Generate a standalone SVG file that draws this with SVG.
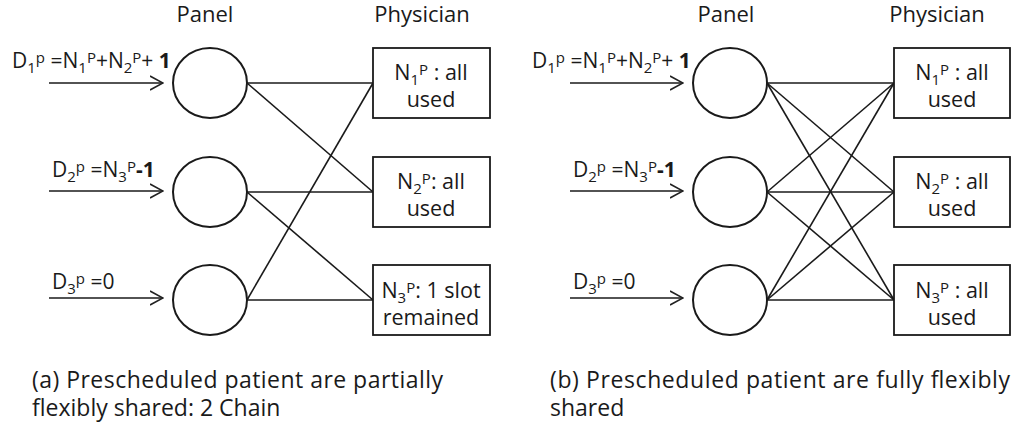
<svg xmlns="http://www.w3.org/2000/svg" width="1016" height="425" viewBox="0 0 1016 425">
<defs>
<marker id="arr" markerWidth="14" markerHeight="16" refX="13" refY="8" orient="auto" markerUnits="userSpaceOnUse">
<path d="M0,1 L13,8 L0,15" fill="none" stroke="#222" stroke-width="1.6"/>
</marker>
<style>
text{font-family:"Open Sans","Noto Sans","Liberation Sans",sans-serif;fill:#1a1a1a}
.hd{font-size:22px;text-anchor:middle}
.lb{font-size:21px}
.bx{font-size:21.5px;text-anchor:middle}
.cap{font-size:23px}
.s{font-size:15px}
.b{font-weight:bold}
.node{fill:#fff;stroke:#1a1a1a;stroke-width:2}
.box{fill:#fff;stroke:#1a1a1a;stroke-width:1.8}
.ln{stroke:#1a1a1a;stroke-width:1.6;fill:none}
.ar{stroke:#1a1a1a;stroke-width:1.6;fill:none;marker-end:url(#arr)}
</style>
</defs>
<rect width="1016" height="425" fill="#fff"/>

<!-- headers -->
<text class="hd" x="205" y="22">Panel</text>
<text class="hd" x="422" y="22">Physician</text>
<text class="hd" x="726" y="22">Panel</text>
<text class="hd" x="937" y="22">Physician</text>

<!-- connectors -->
<g id="connectors">
<line class="ar" x1="49" y1="83" x2="163" y2="83"/>
<line class="ar" x1="49" y1="191" x2="163" y2="191"/>
<line class="ar" x1="49" y1="298" x2="163" y2="298"/>
<line class="ln" x1="247" y1="83" x2="373" y2="83"/>
<line class="ln" x1="247" y1="83" x2="373" y2="192"/>
<line class="ln" x1="247" y1="192" x2="373" y2="192"/>
<line class="ln" x1="247" y1="192" x2="373" y2="300"/>
<line class="ln" x1="247" y1="300" x2="373" y2="300"/>
<line class="ln" x1="247" y1="300" x2="373" y2="83"/>

<line class="ar" x1="570" y1="83" x2="683" y2="83"/>
<line class="ar" x1="570" y1="191" x2="683" y2="191"/>
<line class="ar" x1="570" y1="298" x2="683" y2="298"/>
<line class="ln" x1="767" y1="83" x2="894" y2="83"/>
<line class="ln" x1="767" y1="83" x2="894" y2="192"/>
<line class="ln" x1="767" y1="83" x2="894" y2="300"/>
<line class="ln" x1="767" y1="192" x2="894" y2="83"/>
<line class="ln" x1="767" y1="192" x2="894" y2="192"/>
<line class="ln" x1="767" y1="192" x2="894" y2="300"/>
<line class="ln" x1="767" y1="300" x2="894" y2="83"/>
<line class="ln" x1="767" y1="300" x2="894" y2="192"/>
<line class="ln" x1="767" y1="300" x2="894" y2="300"/>
</g>

<!-- demand labels -->
<text class="lb" x="12" y="68">D<tspan class="s" dy="5">1</tspan><tspan class="s" dy="-10">p</tspan><tspan dy="5"> =N</tspan><tspan class="s" dy="5">1</tspan><tspan class="s" dy="-10">P</tspan><tspan dy="5">+N</tspan><tspan class="s" dy="5">2</tspan><tspan class="s" dy="-10">P</tspan><tspan dy="5">+ </tspan><tspan class="b">1</tspan></text>
<text class="lb" x="52" y="177">D<tspan class="s" dy="5">2</tspan><tspan class="s" dy="-10">p</tspan><tspan dy="5"> =N</tspan><tspan class="s" dy="5">3</tspan><tspan class="s" dy="-10">P</tspan><tspan dy="5" class="b">-1</tspan></text>
<text class="lb" x="52" y="289">D<tspan class="s" dy="5">3</tspan><tspan class="s" dy="-10">p</tspan><tspan dy="5">  =0</tspan></text>

<text class="lb" x="532" y="68">D<tspan class="s" dy="5">1</tspan><tspan class="s" dy="-10">p</tspan><tspan dy="5"> =N</tspan><tspan class="s" dy="5">1</tspan><tspan class="s" dy="-10">P</tspan><tspan dy="5">+N</tspan><tspan class="s" dy="5">2</tspan><tspan class="s" dy="-10">P</tspan><tspan dy="5">+ </tspan><tspan class="b">1</tspan></text>
<text class="lb" x="573" y="177">D<tspan class="s" dy="5">2</tspan><tspan class="s" dy="-10">p</tspan><tspan dy="5"> =N</tspan><tspan class="s" dy="5">3</tspan><tspan class="s" dy="-10">P</tspan><tspan dy="5" class="b">-1</tspan></text>
<text class="lb" x="573" y="289">D<tspan class="s" dy="5">3</tspan><tspan class="s" dy="-10">p</tspan><tspan dy="5">  =0</tspan></text>

<!-- panel nodes (a) -->
<g id="panel-a1"><ellipse class="node" cx="210" cy="83" rx="37" ry="35"/></g>
<g id="panel-a2"><ellipse class="node" cx="210" cy="192" rx="37" ry="35"/></g>
<g id="panel-a3"><ellipse class="node" cx="210" cy="300" rx="37" ry="35"/></g>

<!-- physician nodes (a) -->
<g id="phys-a1"><rect class="box" x="373" y="48" width="117" height="70"/>
<text class="bx" x="431" y="80">N<tspan class="s" dy="5">1</tspan><tspan class="s" dy="-10">P</tspan><tspan dy="5"> : all</tspan></text>
<text class="bx" x="431" y="107">used</text></g>
<g id="phys-a2"><rect class="box" x="373" y="157" width="117" height="70"/>
<text class="bx" x="431" y="189">N<tspan class="s" dy="5">2</tspan><tspan class="s" dy="-10">P</tspan><tspan dy="5">: all</tspan></text>
<text class="bx" x="431" y="216">used</text></g>
<g id="phys-a3"><rect class="box" x="373" y="265" width="117" height="70"/>
<text class="bx" x="431" y="298">N<tspan class="s" dy="5">3</tspan><tspan class="s" dy="-10">P</tspan><tspan dy="5">: 1 slot</tspan></text>
<text class="bx" x="431" y="325">remained</text></g>

<!-- panel nodes (b) -->
<g id="panel-b1"><ellipse class="node" cx="730" cy="83" rx="37" ry="35"/></g>
<g id="panel-b2"><ellipse class="node" cx="730" cy="192" rx="37" ry="35"/></g>
<g id="panel-b3"><ellipse class="node" cx="730" cy="300" rx="37" ry="35"/></g>

<!-- physician nodes (b) -->
<g id="phys-b1"><rect class="box" x="894" y="48" width="116" height="70"/>
<text class="bx" x="952" y="80">N<tspan class="s" dy="5">1</tspan><tspan class="s" dy="-10">P</tspan><tspan dy="5"> : all</tspan></text>
<text class="bx" x="952" y="107">used</text></g>
<g id="phys-b2"><rect class="box" x="894" y="157" width="116" height="70"/>
<text class="bx" x="952" y="189">N<tspan class="s" dy="5">2</tspan><tspan class="s" dy="-10">P</tspan><tspan dy="5"> : all</tspan></text>
<text class="bx" x="952" y="216">used</text></g>
<g id="phys-b3"><rect class="box" x="894" y="265" width="116" height="70"/>
<text class="bx" x="952" y="298">N<tspan class="s" dy="5">3</tspan><tspan class="s" dy="-10">P</tspan><tspan dy="5"> : all</tspan></text>
<text class="bx" x="952" y="325">used</text></g>

<!-- captions -->
<text class="cap" x="32" y="388" textLength="411" lengthAdjust="spacing">(a) Prescheduled  patient are partially</text>
<text class="cap" x="32" y="416">flexibly shared: 2 Chain</text>
<text class="cap" x="550" y="388" textLength="460" lengthAdjust="spacing">(b) Prescheduled  patient are fully flexibly</text>
<text class="cap" x="550" y="416">shared</text>
</svg>
